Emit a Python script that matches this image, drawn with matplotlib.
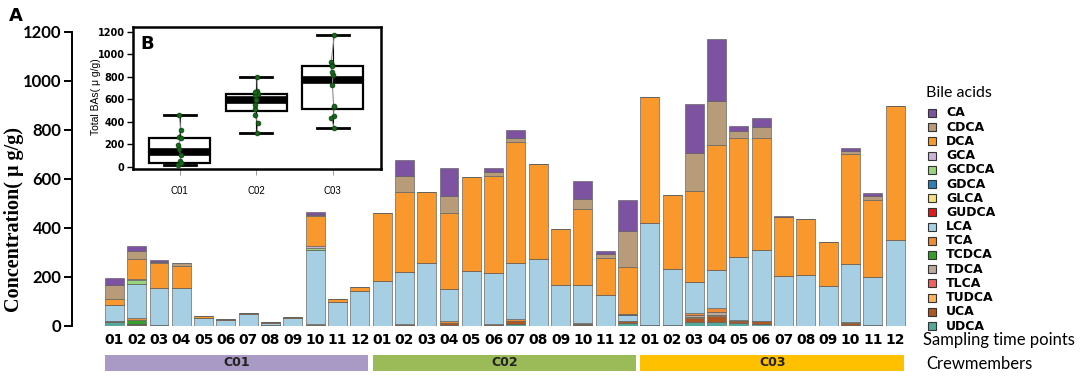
import numpy as np
import matplotlib
matplotlib.use('Agg')
import matplotlib.pyplot as plt
import matplotlib.transforms as mtransforms
from matplotlib.patches import Rectangle

# bile acid concentrations (ug/g) per sample, C01 01-12, C02 01-12, C03 01-12
CA = [27, 18, 8, 0, 0, 0, 0, 0, 0, 11, 0, 0,
      0, 67, 0, 116, 0, 16, 30, 0, 0, 74, 10, 126,
      0, 0, 203, 253, 20, 38, 6, 0, 0, 12, 10, 0]
CDCA = [57, 31, 5, 14, 0, 0, 0, 0, 0, 5, 0, 0,
        0, 63, 0, 70, 0, 17, 19, 0, 0, 41, 18, 146,
        0, 0, 152, 179, 29, 44, 0, 0, 0, 14, 16, 0]
DCA = [27, 83, 102, 89, 8, 4, 8, 4, 4, 123, 13, 19,
       276, 330, 292, 307, 382, 394, 494, 390, 227, 310, 151, 190,
       516, 303, 373, 512, 482, 457, 239, 228, 182, 449, 315, 546]
GCA = [0, 3, 0, 0, 0, 0, 0, 0, 0, 7, 0, 0,
       0, 0, 0, 0, 0, 0, 0, 0, 0, 0, 0, 0,
       0, 0, 0, 0, 0, 0, 0, 0, 0, 0, 0, 0]
GCDCA = [0, 16, 0, 0, 0, 0, 0, 0, 0, 8, 0, 0,
         0, 0, 0, 0, 0, 0, 0, 0, 0, 0, 0, 0,
         0, 0, 0, 0, 0, 0, 0, 0, 0, 0, 0, 0]
GDCA = [0, 0, 0, 0, 0, 0, 0, 0, 0, 0, 0, 0,
        0, 0, 0, 0, 0, 0, 0, 0, 0, 0, 0, 4,
        0, 0, 0, 0, 0, 0, 0, 0, 0, 0, 0, 0]
GLCA = [0] * 36
GUDCA = [0] * 36
LCA = [65, 140, 152, 154, 31, 25, 47, 10, 31, 299, 97, 141,
       183, 209, 255, 132, 224, 207, 227, 272, 167, 154, 123, 27,
       416, 229, 126, 153, 258, 287, 205, 207, 161, 236, 195, 351]
TCA = [0, 8, 0, 0, 0, 0, 0, 0, 0, 5, 0, 0,
       0, 4, 0, 8, 0, 4, 8, 0, 0, 4, 0, 0,
       0, 0, 8, 18, 5, 0, 0, 0, 0, 3, 0, 0]
TCDCA = [0, 16, 0, 0, 0, 0, 0, 0, 0, 5, 0, 0,
         0, 0, 0, 0, 0, 0, 0, 0, 0, 0, 0, 0,
         0, 0, 0, 0, 0, 0, 0, 0, 0, 0, 0, 0]
TDCA = [0, 0, 0, 0, 0, 0, 0, 0, 0, 0, 0, 0,
        0, 0, 0, 0, 0, 0, 0, 0, 0, 0, 0, 0,
        0, 0, 6, 11, 0, 0, 0, 0, 0, 0, 0, 0]
TLCA = [0] * 36
TUDCA = [0, 0, 0, 0, 0, 0, 0, 0, 0, 0, 0, 0,
         0, 0, 0, 0, 0, 0, 0, 0, 0, 0, 0, 0,
         0, 0, 6, 4, 0, 0, 0, 0, 0, 0, 0, 0]
UCA = [5, 5, 3, 0, 0, 0, 0, 4, 0, 0, 0, 0,
       0, 5, 0, 8, 0, 5, 12, 0, 0, 4, 2, 8,
       3, 3, 16, 25, 9, 11, 0, 0, 0, 7, 4, 0]
UDCA = [15, 4, 0, 0, 0, 0, 0, 0, 0, 0, 0, 0,
        0, 0, 0, 4, 0, 0, 8, 0, 0, 4, 0, 11,
        0, 0, 16, 16, 11, 10, 0, 0, 0, 5, 0, 0]

acid_names = ['CA', 'CDCA', 'DCA', 'GCA', 'GCDCA', 'GDCA', 'GLCA', 'GUDCA',
              'LCA', 'TCA', 'TCDCA', 'TDCA', 'TLCA', 'TUDCA', 'UCA', 'UDCA']
acid_values = [CA, CDCA, DCA, GCA, GCDCA, GDCA, GLCA, GUDCA,
               LCA, TCA, TCDCA, TDCA, TLCA, TUDCA, UCA, UDCA]
acid_colors = ['#7d52a1', '#b89b78', '#f9982c', '#cab2d6', '#98d57a', '#2b7fbc',
               '#f4e07c', '#e31a1c', '#a7cfe3', '#ef8a35', '#33a02c', '#bca99b',
               '#f0625f', '#fdb45e', '#b0561f', '#55a99c']

time_labels = ['01', '02', '03', '04', '05', '06', '07', '08', '09', '10', '11', '12']
crew_names = ['C01', 'C02', 'C03']
crew_colors = ['#a89ac4', '#9bbb59', '#ffc000']

W, H = 1084, 378
def fx(px):
    return px / W
def fy(py):
    return 1 - py / H

fig = plt.figure(figsize=(10.84, 3.78), dpi=100)

# main stacked bars
ax = fig.add_axes([fx(72), fy(326), (908.5 - 72) / W, (326 - 31.5) / H])
x = np.arange(36)
bottom = np.zeros(36)
for name, vals, col in reversed(list(zip(acid_names, acid_values, acid_colors))):
    vals = np.array(vals, dtype=float)
    ax.bar(x, vals, 0.85, bottom=bottom, color=col, edgecolor='#5e5e5e', linewidth=0.45)
    bottom += vals
total = bottom.copy()

ax.set_xlim(-1.9, 35.6)
ax.set_ylim(0, 1200)
for s in ['top', 'right', 'bottom']:
    ax.spines[s].set_visible(False)
ax.spines['left'].set_bounds(0, 1200)
ax.spines['left'].set_linewidth(1.4)
ax.set_yticks(range(0, 1201, 200))
ax.tick_params(axis='y', length=6, width=1.4, pad=1.5)
for lab in ax.get_yticklabels():
    lab.set_fontfamily('Lato')
    lab.set_fontweight('bold')
    lab.set_fontsize(12)
ax.set_xticks(x)
ax.set_xticklabels(time_labels * 3, fontfamily='DejaVu Sans', fontweight='bold', fontsize=10)
ax.tick_params(axis='x', length=0, pad=5)

# crew member bands
trans = mtransforms.blended_transform_factory(ax.transData, fig.transFigure)
for k, (cname, ccol) in enumerate(zip(crew_names, crew_colors)):
    ax.add_patch(Rectangle((k * 12 - 0.42, fy(371)), 11.8, (371 - 355) / H,
                           transform=trans, clip_on=False, facecolor=ccol, edgecolor='none'))
    ax.text(k * 12 + 5.5, fy(363), cname, transform=trans, ha='center', va='center',
            fontfamily='DejaVu Sans', fontweight='bold', fontsize=9, color='#222222')

fig.text(fx(923), fy(340), 'Sampling time points', va='center', fontfamily='Lato', fontsize=12)
fig.text(fx(926), fy(364), 'Crewmembers', va='center', fontfamily='Lato', fontsize=12)
fig.text(fx(14), fy(220), 'Concentration( \u03bc g/g)', rotation=90, ha='center', va='center',
         fontfamily='Liberation Serif', fontweight='bold', fontsize=14.5)
fig.text(fx(9), fy(16), 'A', va='center', fontfamily='DejaVu Sans', fontweight='bold', fontsize=13)

# legend
fig.text(fx(926), fy(93), 'Bile acids', va='center', fontfamily='Lato', fontsize=11.5)
for i, (name, col) in enumerate(zip(acid_names, acid_colors)):
    yy = 113 + i * 14.2
    fig.add_artist(Rectangle((fx(928), fy(yy + 4)), 8 / W, 8 / H, transform=fig.transFigure,
                             facecolor=col, edgecolor='#333333', linewidth=0.8))
    fig.text(fx(946), fy(yy), name, va='center', fontfamily='DejaVu Sans',
             fontweight='bold', fontsize=9)

# inset boxplot of total bile acids per crew member
axin = fig.add_axes([fx(133), fy(169), 248 / W, 142 / H])
axin.set_zorder(3)
axin.set_facecolor('white')
groups = [total[k * 12:(k + 1) * 12] for k in range(3)]
axin.boxplot(groups, positions=[1, 2, 3], widths=0.8, whis=1.5, showfliers=False,
             patch_artist=True, capwidths=0.42,
             boxprops=dict(facecolor='white', edgecolor='black', linewidth=1.6),
             medianprops=dict(color='black', linewidth=5.5),
             whiskerprops=dict(color='black', linewidth=0.8),
             capprops=dict(color='black', linewidth=2))
jitter = np.array([-0.02, 0.015, -0.01, 0.02, 0.0, -0.015, 0.01, -0.02, 0.02, -0.005, 0.012, -0.012])
for k, grp in enumerate(groups):
    xs = k + 1 + jitter
    order = np.argsort(grp)
    axin.plot(xs[order], grp[order], '-', color='#8c8c8c', linewidth=0.8, zorder=3)
    axin.scatter(xs, grp, s=12, color='#16691a', edgecolors='#0b3b0d', linewidths=0.5, zorder=4)

axin.set_xlim(0.39, 3.63)
axin.set_ylim(-18, 1242)
axin.set_yticks(range(0, 1201, 200))
axin.set_xticks([1, 2, 3])
axin.set_xticklabels(crew_names, fontsize=7, fontfamily='Liberation Sans')
axin.tick_params(axis='x', length=4, width=0.6, color='#888888', pad=8)
axin.tick_params(axis='y', length=4, width=1, pad=2)
for lab in axin.get_yticklabels():
    lab.set_fontsize(7)
    lab.set_fontweight('bold')
for s in axin.spines.values():
    s.set_linewidth(1.8)
axin.text(0.03, 0.88, 'B', transform=axin.transAxes, va='center',
          fontfamily='DejaVu Sans', fontweight='bold', fontsize=13)
fig.text(fx(96), fy(97), 'Total BAs( \u03bc g/g)', rotation=90, ha='center', va='center',
         fontfamily='Liberation Sans', fontsize=7.5, zorder=5)

fig.savefig('out.png', dpi=100)
